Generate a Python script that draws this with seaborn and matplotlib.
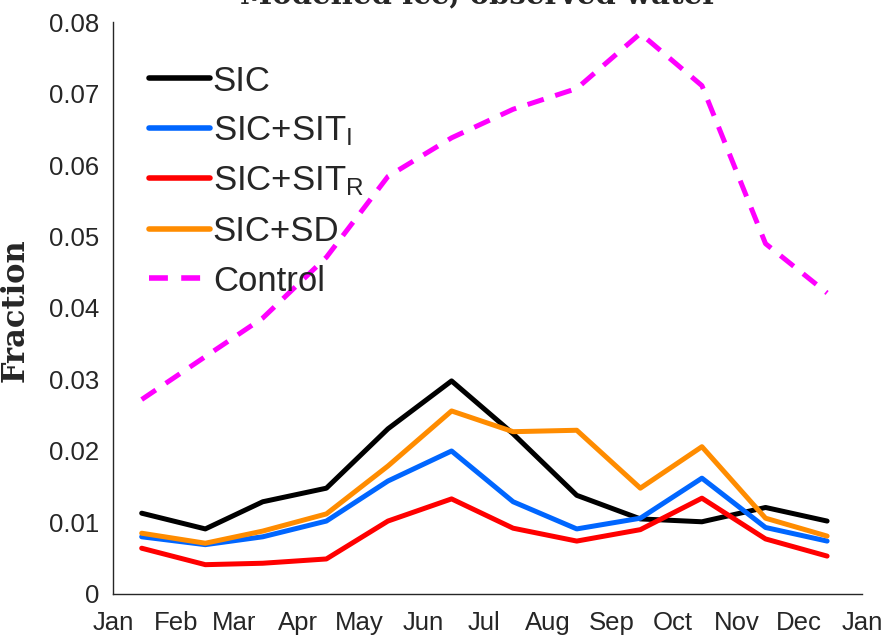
import matplotlib
matplotlib.use("Agg")
import matplotlib.pyplot as plt
import seaborn as sns
import pandas as pd

# month tick positions (day of year) and labels
month_starts = [0, 31, 59, 90, 120, 151, 181, 212, 243, 273, 304, 334, 365]
month_labels = ["Jan", "Feb", "Mar", "Apr", "May", "Jun", "Jul",
                "Aug", "Sep", "Oct", "Nov", "Dec", "Jan"]
days = [14, 45, 73, 104, 134, 165, 195, 226, 257, 287, 318, 348]

y_ticks = [0, 0.01, 0.02, 0.03, 0.04, 0.05, 0.06, 0.07, 0.08]
y_labels = ["0", "0.01", "0.02", "0.03", "0.04", "0.05", "0.06", "0.07", "0.08"]

sic = [0.0113, 0.0091, 0.0129, 0.0148, 0.0231, 0.0298, 0.0224, 0.0138,
       0.0105, 0.0101, 0.0121, 0.0102]
sic_sit_i = [0.0080, 0.0069, 0.0080, 0.0102, 0.0158, 0.0200, 0.0129, 0.0091,
             0.0106, 0.0162, 0.0093, 0.0074]
sic_sit_r = [0.0064, 0.0041, 0.0043, 0.0049, 0.0102, 0.0133, 0.0092, 0.0074,
             0.0090, 0.0134, 0.0077, 0.0053]
sic_sd = [0.0085, 0.0071, 0.0088, 0.0112, 0.0179, 0.0256, 0.0227, 0.0229,
          0.0148, 0.0206, 0.0106, 0.0081]
control = [0.0272, 0.0332, 0.0386, 0.0471, 0.0584, 0.0638, 0.0678, 0.0707,
           0.0784, 0.0711, 0.0490, 0.0421]

sns.set_style("white")
plt.rcParams["font.family"] = ["Liberation Sans", "DejaVu Sans"]
plt.rcParams["mathtext.fontset"] = "custom"
plt.rcParams["mathtext.rm"] = "Liberation Sans"
plt.rcParams["mathtext.it"] = "Liberation Sans"

fig = plt.figure(figsize=(8.86, 6.4), dpi=100)
ax = fig.add_axes([0.1275, 0.0719, 0.8454, 0.8937])

series = [
    ("SIC", sic, "#000000"),
    (r"SIC+SIT$_{\mathrm{I}}$", sic_sit_i, "#0066FF"),
    (r"SIC+SIT$_{\mathrm{R}}$", sic_sit_r, "#FF0000"),
    ("SIC+SD", sic_sd, "#FF8C00"),
]
for name, vals, col in series:
    df = pd.DataFrame({"day": days, "val": vals})
    sns.lineplot(data=df, x="day", y="val", ax=ax, color=col, linewidth=3.6,
                 label=name)

df_c = pd.DataFrame({"day": days, "val": control})
sns.lineplot(data=df_c, x="day", y="val", ax=ax, color="#FF00FF",
             linewidth=3.6, label="Control")
ax.lines[-1].set_dashes((3.4, 2.4))

ax.set_xlim(0, 365)
ax.set_ylim(0, 0.08)
ax.set_xticks(month_starts)
ax.set_xticklabels(month_labels)
ax.set_yticks(y_ticks)
ax.set_yticklabels(y_labels)
ax.tick_params(direction="in", length=8, width=1, colors="#262626",
               labelsize=18.5)
ax.tick_params(axis="x", pad=12)
ax.tick_params(axis="y", pad=10)
for s in ["top", "right"]:
    ax.spines[s].set_visible(False)
for s in ["left", "bottom"]:
    ax.spines[s].set_color("#262626")
    ax.spines[s].set_linewidth(1)

ax.set_xlabel("")
ax.set_ylabel("")
fig.text(0.017, 1 - 310 / 640, "Fraction", rotation=90, ha="center",
         va="center", family="DejaVu Serif", fontweight="bold", fontsize=22)
fig.text(0.54, 1 - 3 / 640, "Modelled ice, observed water", ha="center",
         va="baseline", family="DejaVu Serif", fontweight="bold", fontsize=21)

leg = ax.legend(loc="upper left", bbox_to_anchor=(0.03, 0.95),
                frameon=False, fontsize=25, handlelength=1.75,
                handletextpad=0.08, labelspacing=0.48, borderaxespad=0)
for line in leg.get_lines():
    line.set_linewidth(4)

fig.savefig("out.png", dpi=100)
